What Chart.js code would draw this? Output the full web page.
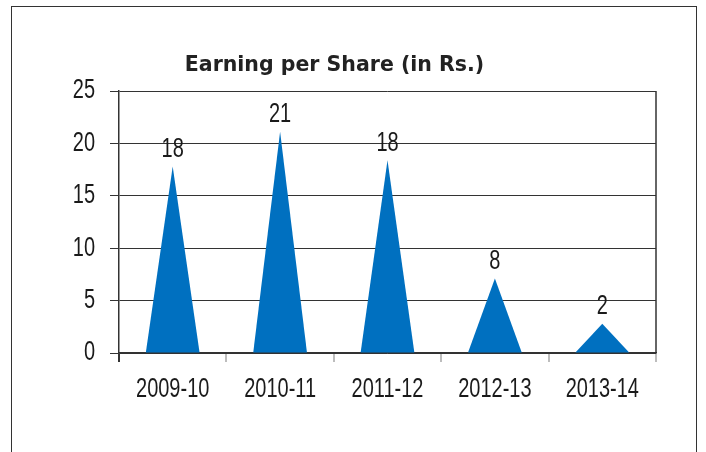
<!DOCTYPE html>
<html>
<head>
<meta charset="utf-8">
<script src="https://cdn.jsdelivr.net/npm/chart.js@4.4.1/dist/chart.umd.min.js"></script>
<style>
	html, body { margin: 0; padding: 0; background: #fff; }
	#frame {
		position: absolute; left: 11px; top: 6px; width: 686px; height: 460px;
		border: 1.5px solid #333; box-sizing: border-box;
	}
	#epsChart { position: absolute; left: 0; top: 0; }
</style>
</head>
<body>
<div id="frame"></div>
<canvas id="epsChart" width="669" height="452"></canvas>
<script>
const years = ['2009-10', '2010-11', '2011-12', '2012-13', '2013-14'];
// heights as drawn in the picture
const eps = [17.8, 21.1, 18.4, 7.1, 2.8];
// numbers printed above each pyramid
const epsLabels = ['18', '21', '18', '8', '2'];

const numFont = "27px 'Liberation Sans', Arial, sans-serif";
const squeeze = 0.74;   // the original uses a narrow face for the numbers

const drawNarrow = (ctx, text, x, y, align) => {
	ctx.save();
	ctx.translate(x, y);
	ctx.scale(squeeze, 1);
	ctx.font = numFont;
	ctx.fillStyle = '#1a1a1a';
	ctx.textAlign = align;
	ctx.textBaseline = 'middle';
	ctx.fillText(text, 0, 0);
	ctx.restore();
};

// draws each bar as a triangle, its label over the tip, and the axis numbers
const pyramids = {
	id: 'pyramids',
	afterDatasetsDraw(chart) {
		const ctx = chart.ctx;
		const meta = chart.getDatasetMeta(0);
		ctx.save();
		meta.data.forEach((bar, i) => {
			const half = bar.width / 2;
			ctx.beginPath();
			ctx.moveTo(bar.x - half, bar.base);
			ctx.lineTo(bar.x, bar.y);
			ctx.lineTo(bar.x + half, bar.base);
			ctx.closePath();
			ctx.fillStyle = '#0070c0';
			ctx.fill();
			drawNarrow(ctx, epsLabels[i], bar.x, bar.y - 17, 'center');
		});

		// right edge of the plot box
		const a = chart.chartArea;
		ctx.strokeStyle = '#333';
		ctx.lineWidth = 1.5;
		ctx.beginPath();
		ctx.moveTo(a.right, a.top);
		ctx.lineTo(a.right, a.bottom);
		ctx.stroke();

		const xs = chart.scales.x;
		xs.ticks.forEach((t, i) => {
			drawNarrow(ctx, xs.getLabelForValue(t.value), xs.getPixelForTick(i), xs.top + 37, 'center');
		});
		const ys = chart.scales.y;
		ys.ticks.forEach((t, i) => {
			drawNarrow(ctx, String(t.value), ys.right - 24, ys.getPixelForTick(i), 'right');
		});
		ctx.restore();
	}
};

const config = {
	type: 'bar',
	data: {
		labels: years,
		datasets: [{
			label: 'EPS',
			data: eps,
			backgroundColor: 'rgba(0,0,0,0)',
			barPercentage: 0.5,
			categoryPercentage: 1
		}]
	},
	options: {
		responsive: false,
		animation: false,
		layout: { padding: { left: 13, right: 13, top: 0, bottom: 0 } },
		plugins: {
			legend: { display: false },
			tooltip: { enabled: false },
			title: {
				display: true,
				text: 'Earning per Share (in Rs.)',
				color: '#222',
				font: { family: "'DejaVu Sans', sans-serif", size: 20.5, weight: 'bold', lineHeight: 1.2 },
				padding: { top: 53, bottom: 13.4 }
			}
		},
		scales: {
			x: {
				afterFit: (scale) => { scale.height = 99; },
				grid: {
					offset: true,
					drawOnChartArea: false,
					tickLength: 9,
					lineWidth: 2,
					color: (c) => c.index === 0 ? '#333' : '#bdbdbd'
				},
				border: { color: '#333', width: 1.5 },
				ticks: { display: false }
			},
			y: {
				min: 0,
				max: 25,
				afterFit: (scale) => { scale.width = 106; },
				grid: {
					color: '#333',
					lineWidth: 1,
					tickLength: 9
				},
				border: { color: '#333', width: 1.5 },
				ticks: { display: false, stepSize: 5 }
			}
		}
	},
	plugins: [pyramids]
};

new Chart(document.getElementById('epsChart').getContext('2d'), config);
</script>
</body>
</html>
